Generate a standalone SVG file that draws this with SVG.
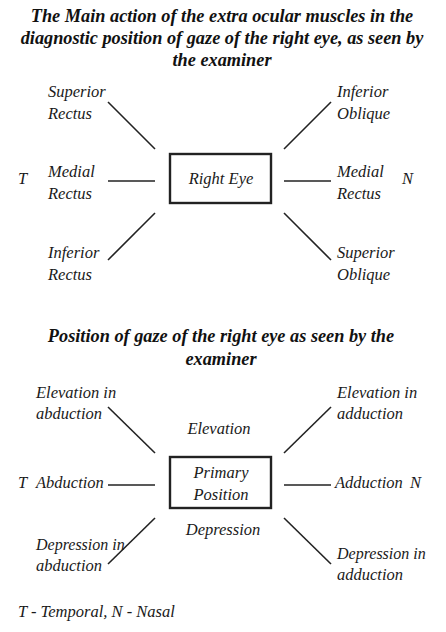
<svg xmlns="http://www.w3.org/2000/svg" width="446" height="632" viewBox="0 0 446 632">
<style>
.t{font-family:"Liberation Serif","Times New Roman",serif;font-style:italic;font-size:16.5px;fill:#1a1a1a}
.h{font-family:"Liberation Serif","Times New Roman",serif;font-style:italic;font-weight:bold;font-size:18.3px;fill:#111;text-anchor:middle}
.c{text-anchor:middle}
.ln{stroke:#222;stroke-width:1.6;fill:none}
.box{stroke:#222;stroke-width:2.4;fill:#fff}
</style>
<rect width="446" height="632" fill="#fff"/>
<g id="title1">
<text class="h" x="222" y="22">The Main action of the extra ocular muscles in the</text>
<text class="h" x="222" y="44">diagnostic position of gaze of the right eye, as seen by</text>
<text class="h" x="222" y="66">the examiner</text>
</g>
<g id="connectors1">
<line class="ln" x1="108" y1="102" x2="155" y2="149"/>
<line class="ln" x1="331" y1="102" x2="284" y2="149"/>
<line class="ln" x1="108" y1="181" x2="155" y2="181"/>
<line class="ln" x1="284" y1="181" x2="331" y2="181"/>
<line class="ln" x1="155" y1="213" x2="108" y2="260"/>
<line class="ln" x1="284" y1="213" x2="331" y2="260"/>
</g>
<g id="right-eye">
<rect class="box" x="170" y="154" width="101" height="49"/>
<text class="t c" x="221" y="184">Right Eye</text>
</g>
<g id="superior-rectus"><text class="t" x="48" y="97">Superior</text><text class="t" x="48" y="119">Rectus</text></g>
<g id="inferior-oblique"><text class="t" x="337" y="97">Inferior</text><text class="t" x="337" y="119">Oblique</text></g>
<g id="medial-rectus-l"><text class="t" x="48" y="177">Medial</text><text class="t" x="48" y="199">Rectus</text></g>
<g id="medial-rectus-r"><text class="t" x="337" y="177">Medial</text><text class="t" x="337" y="199">Rectus</text></g>
<g id="t1"><text class="t" x="18" y="184">T</text></g>
<g id="n1"><text class="t" x="402" y="184">N</text></g>
<g id="inferior-rectus"><text class="t" x="48" y="258">Inferior</text><text class="t" x="48" y="280">Rectus</text></g>
<g id="superior-oblique"><text class="t" x="337" y="258">Superior</text><text class="t" x="337" y="280">Oblique</text></g>

<g id="title2">
<text class="h" x="221" y="342">Position of gaze of the right eye as seen by the</text>
<text class="h" x="221" y="365">examiner</text>
</g>
<g id="connectors2">
<line class="ln" x1="108" y1="407" x2="155" y2="453"/>
<line class="ln" x1="331" y1="407" x2="284" y2="453"/>
<line class="ln" x1="108" y1="485" x2="155" y2="485"/>
<line class="ln" x1="284" y1="485" x2="331" y2="485"/>
<line class="ln" x1="155" y1="518" x2="108" y2="564"/>
<line class="ln" x1="284" y1="518" x2="331" y2="564"/>
</g>
<g id="primary-position">
<rect class="box" x="170" y="457" width="101" height="51"/>
<text class="t c" x="221" y="478">Primary</text>
<text class="t c" x="221" y="500">Position</text>
</g>
<g id="elev-abd"><text class="t" x="36" y="398">Elevation in</text><text class="t" x="36" y="419">abduction</text></g>
<g id="elev-add"><text class="t" x="337" y="398">Elevation in</text><text class="t" x="337" y="419">adduction</text></g>
<g id="elevation"><text class="t c" x="219" y="434">Elevation</text></g>
<g id="t2"><text class="t" x="18" y="488">T</text></g>
<g id="abduction"><text class="t" x="36" y="488">Abduction</text></g>
<g id="adduction"><text class="t" x="335" y="488">Adduction</text></g>
<g id="n2"><text class="t" x="410" y="488">N</text></g>
<g id="depression"><text class="t c" x="223" y="535">Depression</text></g>
<g id="dep-abd"><text class="t" x="36" y="550" style="font-size:16px">Depression in</text><text class="t" x="36" y="571">abduction</text></g>
<g id="dep-add"><text class="t" x="337" y="559" style="font-size:16px">Depression in</text><text class="t" x="337" y="580">adduction</text></g>
<g id="legend"><text class="t" x="18" y="617">T - Temporal, N - Nasal</text></g>
</svg>
